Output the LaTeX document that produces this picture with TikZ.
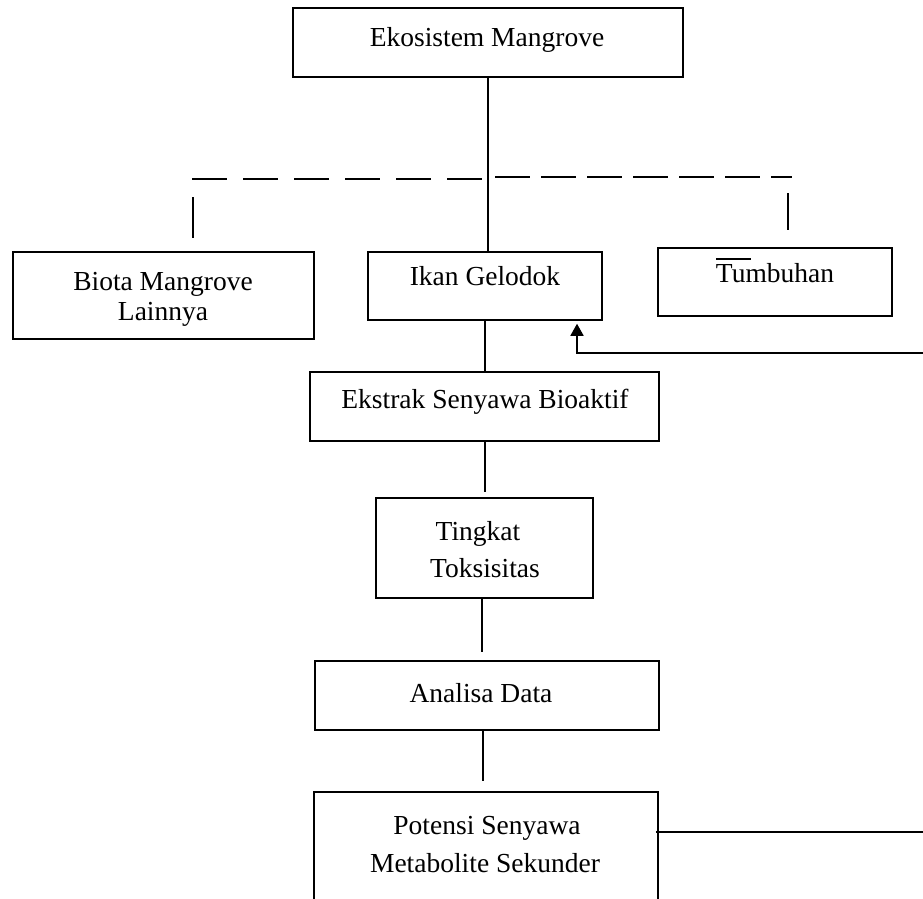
\documentclass[tikz,border=0pt]{standalone}
\usepackage{fontspec}
\setmainfont{Liberation Serif}
\usetikzlibrary{arrows.meta}
\begin{document}
\begin{tikzpicture}[x=1pt,y=-1pt,
  box/.style={draw=black, line width=1.5pt, inner sep=0pt},
  txt/.style={anchor=base, inner sep=0pt, font=\fontsize{27.5}{30}\selectfont},
  conn/.style={draw=black, line width=1.6pt},
  dsh/.style={draw=black, line width=1.6pt, dash pattern=on 35pt off 16pt},
  arr/.style={draw=black, line width=1.6pt, -{Triangle[length=12pt,width=13pt]}}]
\useasboundingbox (0,0) rectangle (923,898);
\clip (0,0) rectangle (923,898);
% boxes
\node[box, minimum width=390pt, minimum height=69pt] (eko) at (488,42.5) {};
\node[box, minimum width=301pt, minimum height=87pt] (biota) at (163.5,295.5) {};
\node[box, minimum width=234pt, minimum height=68pt] (ikan) at (485,286) {};
\node[box, minimum width=234pt, minimum height=68pt] (tumb) at (775,282) {};
\node[box, minimum width=349pt, minimum height=69pt] (ekstrak) at (484.5,406.5) {};
\node[box, minimum width=217pt, minimum height=100pt] (tingkat) at (484.5,548) {};
\node[box, minimum width=344pt, minimum height=69pt] (analisa) at (487,695.5) {};
\node[box, minimum width=344pt, minimum height=138pt] (potensi) at (486,861) {};
% texts
\node[txt] (t1) at (487,46) {Ekosistem Mangrove};
\node[txt] (t2a) at (163,290) {Biota Mangrove};
\node[txt] (t2b) at (163,320) {Lainnya};
\node[txt] (t3) at (485,285) {Ikan Gelodok};
\node[txt] (t4) at (775,282) {Tumbuhan};
\draw[line width=1.5pt] (716,259) -- (751,259);
\node[txt] (t5) at (485,408) {Ekstrak Senyawa Bioaktif};
\node[txt] (t6a) at (478,540) {Tingkat};
\node[txt] (t6b) at (485,577) {Toksisitas};
\node[txt] (t7) at (481,702) {Analisa Data};
\node[txt] (t8a) at (487,834) {Potensi Senyawa};
\node[txt] (t8b) at (485,872) {Metabolite Sekunder};
% dashed branch line
\coordinate (dl0) at (192,179);
\coordinate (dl1) at (487,179);
\coordinate (dr0) at (495,177);
\coordinate (dr1) at (792,177);
\draw[dsh] (dl0) -- (dl1);
\draw[draw=black, line width=1.6pt, dash pattern=on 35pt off 11pt] (dr0) -- (dr1);
\coordinate (sl0) at (193,197);
\coordinate (sl1) at (193,238);
\coordinate (sr0) at (788,193);
\coordinate (sr1) at (788,230);
\draw[conn] (sl0) -- (sl1);
\draw[conn] (sr0) -- (sr1);
% vertical connectors
\coordinate (c0) at (485,0);
\draw[conn] (eko.south) -- (eko.south |- ikan.north);
\draw[conn] (c0 |- ikan.south) -- ([yshift=-2pt]c0 |- ekstrak.north);
\draw[conn] (c0 |- ekstrak.south) -- ([yshift=5pt]c0 |- tingkat.north);
\coordinate (c1) at (482,0);
\draw[conn] (c1 |- tingkat.south) -- ([yshift=8pt]c1 |- analisa.north);
\coordinate (c2) at (483,0);
\draw[conn] (c2 |- analisa.south) -- ([yshift=10pt]c2 |- potensi.north);
% feedback arrow
\coordinate (fy) at (0,832);
\coordinate (ax) at (577,353);
\coordinate (fr) at (950,0);
\draw[arr, shorten >=3pt] ([xshift=-3pt]potensi.east |- fy) -- (fr |- fy) -- (fr |- ax) -- (ax) -- (ax |- ikan.south);
\end{tikzpicture}
\end{document}
